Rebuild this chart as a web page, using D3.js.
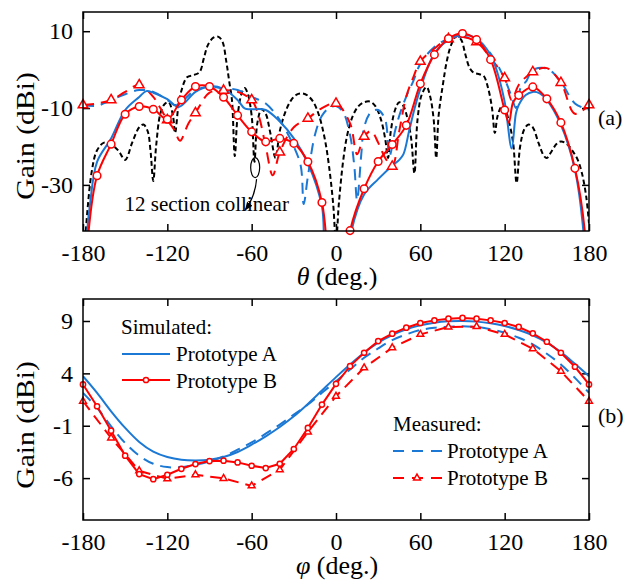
<!DOCTYPE html>
<html>
<head>
<meta charset="utf-8">
<script src="https://cdn.jsdelivr.net/npm/d3@7"></script>
<style>
  body { margin: 0; background: #fff; }
  svg text { font-family: "Liberation Serif", "Times New Roman", serif; fill: #000; }
</style>
</head>
<body>
<svg id="chart" width="636" height="582"></svg>
<script>
(function(){
    /* global d3 */

    // ---- panel (a): gain vs theta ----
    var thetaSimA = [-180,-177,-175,-170,-160,-150,-140,-135,-130,-120,-112,-100,-90,-80,-70,-65,-60,-50,-40,-30,-20,-10,-5,5,11,20,30,40,45,48,52,56,60,70,80,90,100,110,115,120,125,128,130,135,140,145,150,160,170,176,180];
    var gainSimA  = [-70,-42,-35,-24,-17.9,-10.5,-7.1,-5.6,-6.0,-7.7,-9.7,-5.8,-4.3,-5.0,-7.9,-10.1,-10.3,-10.5,-13.5,-17.9,-24.4,-35.6,-60,-60,-42,-32.5,-28.5,-25,-23.5,-22,-16,-10,-5,4.2,7.7,9.0,8.1,3.8,-1.0,-8.4,-20.5,-11.4,-9.2,-6.6,-5.8,-6.2,-7.9,-14.4,-26.1,-42,-70];

    var thetaSimB = [-180,-176,-170,-160,-150,-140,-130,-120,-110,-100,-90,-80,-70,-60,-50,-40,-30,-20,-10,-5,0,5,10,20,30,40,50,60,70,80,90,100,110,120,123,126,130,140,150,160,170,177,180];
    var gainSimB  = [-70,-42,-27.6,-19.4,-11.6,-9.6,-10.3,-12.9,-7.9,-4.4,-4.4,-7.2,-11.9,-16.2,-18.8,-17.9,-19.2,-24.0,-34.6,-55,-80,-55,-41.9,-31.0,-23.9,-19.5,-14.5,-3.7,3.9,8.1,9.4,7.8,2.6,-10.5,-13.8,-8.5,-6.7,-4.5,-7.6,-13.8,-25.7,-42,-70];

    var thetaMeasA = [-180,-170,-160,-150,-140,-130,-120,-115,-110,-100,-90,-80,-70,-60,-50,-40,-30,-25,-23,-20,-15,-10,-5,0,5,10,13,15,18,20,25,30,35,38,42,45,50,55,60,70,80,90,100,110,120,125,128,132,135,140,150,160,170,180];
    var gainMeasA  = [-9.2,-9.4,-7.9,-6.4,-5.3,-5.8,-7.9,-9.2,-8.4,-5.3,-4.5,-4.9,-5.3,-7.1,-8.8,-13.1,-20,-25.2,-35,-27.8,-17,-12,-10,-9.5,-11,-17,-25,-34,-22,-15,-11,-10.5,-13,-22.5,-16,-12,-7,-3,1.5,5.9,8,8.5,7.5,4.2,-2.5,-7.1,-10,-4,-3.2,-0.1,0.3,-3.2,-8.8,-10.5];

    var thetaMeasB = [-180,-170,-160,-150,-140,-130,-125,-120,-115,-111,-105,-100,-90,-80,-70,-60,-55,-50,-45,-40,-30,-20,-10,0,10,15,20,25,30,35,40,45,50,55,60,70,80,90,100,110,120,125,130,140,150,160,170,180];
    var gainMeasB  = [-9.2,-8.8,-7.9,-5.8,-4.0,-7.1,-10,-13.1,-15.7,-18.5,-14,-11.3,-6,-5.4,-5.8,-7.9,-12,-20,-27.5,-21.5,-15,-12.7,-10,-8.8,-14,-22,-17.4,-16,-19,-23,-25.2,-16,-7,-2,2.1,5.5,8.0,8.5,7.2,3,-2.2,-7.9,-4,-0.6,0.4,-3.4,-11.5,-9.2];

    var thetaColl = [-178,-174,-170,-165,-160,-155,-150,-145,-140,-137,-134,-132,-130,-128,-125,-122,-119,-116,-114.5,-112,-110,-106,-101,-97,-94,-91,-87,-84,-81,-78,-76,-74,-72,-70,-67,-65,-63,-60,-58,-56,-53,-50,-47,-43,-40,-36,-32,-28,-24,-20,-16,-12,-8,-5,-2,0,2,5,8,12,16,20,24,28,32,35,37,39,42,45,48,51,53.5,55.8,58,61,64.5,67,69.5,71.3,73,76,79,82,85.6,89,92,95,98,102,105,108,111,113,115,118,120,123,126,128.5,131,134,137,140,144,148,150,153,157,160,164,168,172,175,178,180];
    var gainColl  = [-42,-27,-21,-19,-19.5,-21,-23.5,-19,-15,-14.3,-16,-21,-29,-20,-11.5,-9,-8.5,-12,-16.5,-9,-5.5,-2,-1.4,-0.6,3,6.5,8.4,8.6,7.5,2,-3,-8,-22.5,-12,-6,-4.8,-6,-12,-24,-14,-10.3,-11.5,-16,-23,-16,-11,-8,-6.5,-6.2,-6.8,-8.5,-12,-18,-25,-35,-45,-35,-24,-17,-12,-9.5,-8.5,-8.3,-9.5,-13,-18,-23,-16,-10.5,-8.5,-9.5,-13,-18,-27,-13,-6.5,-4.5,-7,-13,-23,-12,-4,2.5,6.5,8.7,7.8,4,0.5,-0.8,-1.2,-1.6,-4.5,-10,-16.5,-12,-9.5,-10,-13.5,-19,-29.5,-20,-15.5,-14.3,-15,-19,-22.5,-23,-21.5,-19.3,-18.7,-19.3,-21,-23.5,-27,-33,-40];

    // ---- panel (b): gain vs phi ----
    var phi10 = [-180,-170,-160,-150,-140,-130,-120,-110,-100,-90,-80,-70,-60,-50,-40,-30,-20,-10,0,10,20,30,40,50,60,70,80,90,100,110,120,130,140,150,160,170,180];
    var phi20 = [-180,-160,-140,-120,-100,-80,-60,-40,-20,0,20,40,60,80,100,120,140,160,180];
    var phiSimA  = [3.73,2.14,0.38,-1.21,-2.55,-3.48,-3.99,-4.25,-4.31,-4.25,-3.99,-3.51,-2.81,-2.01,-1.12,-0.10,1.08,2.36,3.64,4.85,5.97,6.93,7.66,8.2,8.59,8.84,8.97,9.0,8.94,8.78,8.52,8.14,7.63,6.93,6.03,4.91,3.73];
    var phiSimB  = [2.94,0.86,-1.47,-3.86,-5.62,-6.10,-5.68,-5.11,-4.66,-4.37,-4.34,-4.50,-4.82,-5.04,-4.63,-3.22,-1.21,1.02,3.0,4.69,5.97,7.08,7.79,8.36,8.81,9.06,9.22,9.29,9.22,9.06,8.81,8.43,7.82,7.02,5.97,4.63,2.94];
    var phiMeasA = [2.14,0.70,-1.05,-2.65,-3.86,-4.63,-4.95,-4.95,-4.72,-4.4,-3.93,-3.29,-2.59,-1.76,-0.89,0.06,1.02,2.14,3.25,4.37,5.49,6.38,7.18,7.72,8.14,8.36,8.46,8.49,8.43,8.2,7.88,7.40,6.77,5.87,4.85,3.57,2.14];
    var phiMeasB = [1.34,-2.17,-5.30,-6.07,-5.68,-6.03,-6.74,-5.2,-1.6,1.82,4.53,6.45,7.72,8.43,8.46,7.72,6.35,4.21,1.34];

    var xTicks = [-180,-120,-60,0,60,120,180];
    var yTicksA = [10,-10,-30];
    var yTicksB = [9,4,-1,-6];

    var blue = '#1b78d4', red = '#ff0000';
    var svg = d3.select('#chart');
    var defs = svg.append('defs');

    defs.append('marker')
        .attr('id','arrow').attr('viewBox','0 0 10 10')
        .attr('refX',9).attr('refY',5)
        .attr('markerWidth',7).attr('markerHeight',7)
        .attr('orient','auto')
        .append('path').attr('d','M0,1 L10,5 L0,9 z').attr('fill','#000');

    function zip(xs, ys){ return xs.map((v,i) => ({x: v, y: ys[i]})); }

    var tri = d3.symbol().type(d3.symbolTriangle);

    function panel(id, top, bottom, yDomain, yTicks, series, opt){
        var x = d3.scaleLinear().domain([-180,180]).range([83,589]);
        var y = d3.scaleLinear().domain(yDomain).range([bottom, top]);
        var g = svg.append('g');

        defs.append('clipPath').attr('id','clip-' + id)
            .append('rect').attr('x',83).attr('y',top).attr('width',506).attr('height',bottom - top);

        var fmt = d => String(d);
        var ax = [
            g.append('g').attr('transform','translate(0,' + bottom + ')')
                .call(d3.axisBottom(x).tickValues(xTicks).tickSize(-7).tickPadding(13).tickFormat(fmt)),
            g.append('g').attr('transform','translate(0,' + top + ')')
                .call(d3.axisTop(x).tickValues(xTicks).tickSize(-7).tickFormat('')),
            g.append('g').attr('transform','translate(83,0)')
                .call(d3.axisLeft(y).tickValues(yTicks).tickSize(-7).tickPadding(10).tickFormat(fmt)),
            g.append('g').attr('transform','translate(589,0)')
                .call(d3.axisRight(y).tickValues(yTicks).tickSize(-7).tickFormat(''))
        ];
        ax.forEach(a => {
            a.attr('font-family', null).attr('font-size', 24);
            a.select('.domain').remove();
            a.selectAll('.tick line').attr('stroke-width', 1.5);
        });

        var plot = g.append('g').attr('clip-path','url(#clip-' + id + ')');
        series.forEach(s => {
            var line = d3.line().x(d => x(d.x)).y(d => y(d.y))
                .curve(s.linear ? d3.curveLinear : d3.curveCatmullRom.alpha(0.5));
            plot.append('path').datum(s.data)
                .attr('fill','none').attr('stroke', s.color)
                .attr('stroke-width', s.width || 2)
                .attr('stroke-dasharray', s.dash || null)
                .attr('d', line);
        });
        series.forEach(s => {
            if (!s.marker) return;
            var pts = s.data.filter(d => d.x % s.every === 0 && d.y >= yDomain[0] && d.y <= yDomain[1]);
            if (s.marker === 'circle') {
                g.selectAll(null).data(pts).enter().append('circle')
                    .attr('cx', d => x(d.x)).attr('cy', d => y(d.y)).attr('r', s.size)
                    .attr('fill','#fff').attr('stroke', s.color).attr('stroke-width', 1.5);
            } else {
                g.selectAll(null).data(pts).enter().append('path')
                    .attr('transform', d => 'translate(' + x(d.x) + ',' + y(d.y) + ')')
                    .attr('d', tri.size(s.size)())
                    .attr('fill','#fff').attr('stroke', s.color).attr('stroke-width', 1.5);
            }
        });

        g.append('rect').attr('x',83).attr('y',top).attr('width',506).attr('height',bottom - top)
            .attr('fill','none').attr('stroke','#000').attr('stroke-width',1.5);

        // y title is drawn a little longer than its height, as in the source figure
        g.append('text')
            .attr('transform','translate(34,' + opt.ylabelY + ') rotate(-90) scale(1.14,1)')
            .attr('text-anchor','middle').attr('font-size',26)
            .text('Gain (dBi)');
        var xl = g.append('text').attr('x',337).attr('y', bottom + 54)
            .attr('text-anchor','middle').attr('font-size',26);
        xl.append('tspan').attr('font-style','italic').text(opt.sym);
        xl.append('tspan').text(' (deg.)');
        g.append('text').attr('x',598).attr('y', opt.tagY).attr('font-size',22).text(opt.tag);

        return {x: x, y: y, g: g};
    }

    var a = panel('a', 12, 231, [-42, 15], yTicksA, [
        {data: zip(thetaColl, gainColl), color: '#000', dash: '5,3'},
        {data: zip(thetaMeasA, gainMeasA), color: blue, dash: '11,7'},
        {data: zip(thetaMeasB, gainMeasB), color: red, dash: '11,7', marker: 'triangle', every: 20, size: 40},
        {data: zip(thetaSimA, gainSimA), color: blue},
        {data: zip(thetaSimB, gainSimB), color: red, marker: 'circle', every: 10, size: 3.8}
    ], {ylabelY: 136, sym: '\u03b8', tag: '(a)', tagY: 125});

    // "12 section collinear" callout
    a.g.append('ellipse').attr('cx', a.x(-57.5)).attr('cy', a.y(-25.5))
        .attr('rx',4.5).attr('ry',10).attr('fill','none').attr('stroke','#000').attr('stroke-width',1.2);
    a.g.append('path')
        .attr('d', 'M' + a.x(-56.5) + ',' + a.y(-28.5) + ' Q' + a.x(-57.5) + ',' + a.y(-33) + ' ' + a.x(-64.5) + ',' + a.y(-36.5))
        .attr('fill','none').attr('stroke','#000').attr('stroke-width',1.2)
        .attr('marker-end','url(#arrow)');
    a.g.append('text').attr('x', a.x(-150.5)).attr('y', a.y(-36.8)).attr('font-size',21)
        .text('12 section collinear');

    var b = panel('b', 299, 520, [-10, 11.1], yTicksB, [
        {data: zip(phi10, phiMeasA), color: blue, dash: '11,7'},
        {data: zip(phi20, phiMeasB), color: red, dash: '11,7', linear: true, marker: 'triangle', every: 20, size: 20},
        {data: zip(phi10, phiSimA), color: blue},
        {data: zip(phi10, phiSimB), color: red, linear: true, marker: 'circle', every: 10, size: 2.6}
    ], {ylabelY: 425, sym: '\u03c6', tag: '(b)', tagY: 423});

    // legends
    var leg = b.g.append('g').attr('font-size',21);
    leg.append('text').attr('x',121).attr('y',334).text('Simulated:');
    leg.append('line').attr('x1',122).attr('x2',170).attr('y1',354).attr('y2',354)
        .attr('stroke',blue).attr('stroke-width',2);
    leg.append('text').attr('x',176).attr('y',361).text('Prototype A');
    leg.append('line').attr('x1',122).attr('x2',170).attr('y1',380).attr('y2',380)
        .attr('stroke',red).attr('stroke-width',2);
    leg.append('circle').attr('cx',146).attr('cy',380).attr('r',2.6)
        .attr('fill','#fff').attr('stroke',red).attr('stroke-width',1.5);
    leg.append('text').attr('x',176).attr('y',387.5).text('Prototype B');

    leg.append('text').attr('x',393).attr('y',431).text('Measured:');
    leg.append('line').attr('x1',393).attr('x2',442).attr('y1',451).attr('y2',451)
        .attr('stroke',blue).attr('stroke-width',2).attr('stroke-dasharray','11,8');
    leg.append('text').attr('x',447).attr('y',458).text('Prototype A');
    leg.append('line').attr('x1',393).attr('x2',442).attr('y1',478).attr('y2',478)
        .attr('stroke',red).attr('stroke-width',2).attr('stroke-dasharray','11,8');
    leg.append('path').attr('transform','translate(417,478)').attr('d', tri.size(20)())
        .attr('fill','#fff').attr('stroke',red).attr('stroke-width',1.5);
    leg.append('text').attr('x',447).attr('y',485).text('Prototype B');
})();
</script>
</body>
</html>
